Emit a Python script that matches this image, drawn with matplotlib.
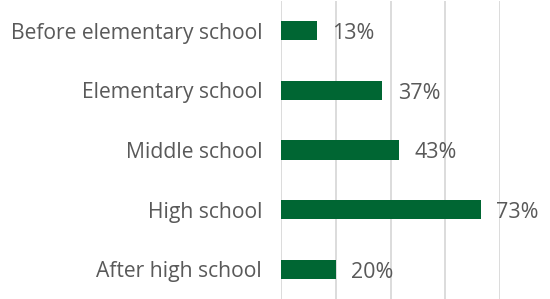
import matplotlib
matplotlib.use("Agg")
import matplotlib.pyplot as plt

categories = ["Before elementary school", "Elementary school", "Middle school",
              "High school", "After high school"]
values = [13, 37, 43, 73, 20]
value_labels = ["13%", "37%", "43%", "73%", "20%"]
grid_ticks = [0, 20, 40, 60, 80]

green = "#006633"
text_gray = "#595959"

plt.rcParams['font.family'] = ['Open Sans', 'DejaVu Sans']

fig = plt.figure(figsize=(5.5, 2.99), dpi=100)
ax = fig.add_axes([281 / 550, 0.0, (500 - 281) / 550, 298 / 299])

y = list(range(len(categories)))
ax.barh(y, values, height=0.32, color=green, zorder=3)

for yi, v, lab in zip(y, values, value_labels):
    ax.text(v + 5.6, yi + 0.05, lab, va="center", ha="left", fontsize=15.5,
            color=text_gray, clip_on=False)

ax.set_xlim(0, 80)
ax.set_ylim(len(categories) - 0.5, -0.5)
ax.set_xticks(grid_ticks)
ax.set_xticklabels([])
ax.set_yticks(y)
ax.set_yticklabels(categories, fontsize=15.2, color=text_gray)
ax.tick_params(axis="y", length=0, pad=13.5)
ax.tick_params(axis="x", length=0)
ax.grid(axis="x", color="#d9d9d9", linewidth=1.3, zorder=0)
for s in ax.spines.values():
    s.set_visible(False)

fig.savefig("out.png", dpi=100)
